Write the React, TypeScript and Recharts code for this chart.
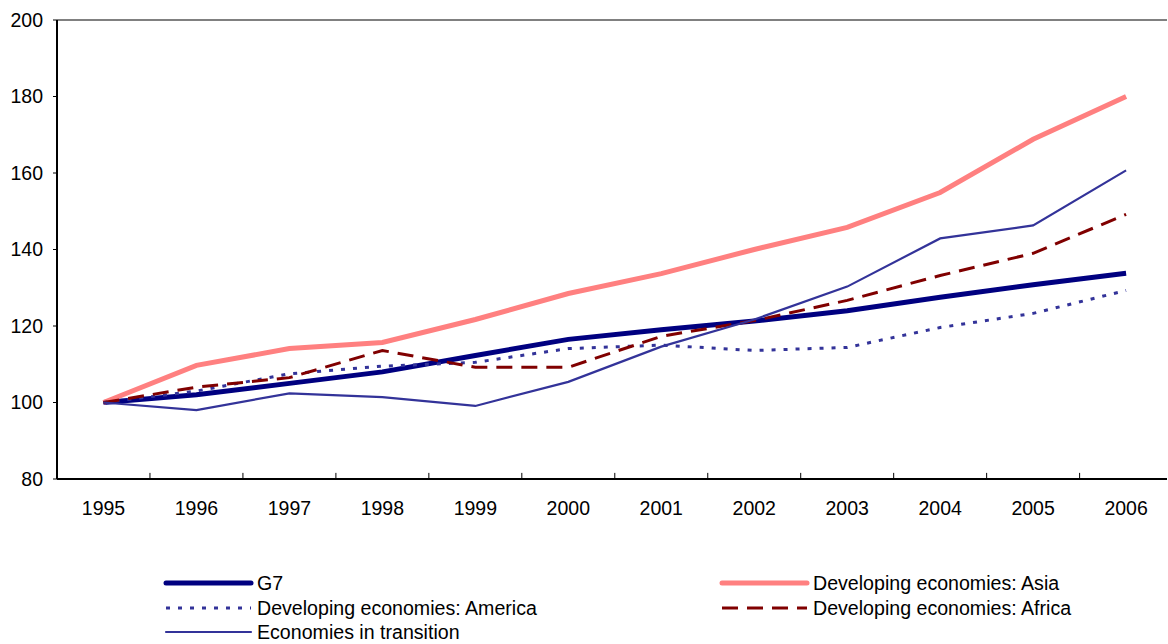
import { LineChart, Line, XAxis, YAxis, ReferenceLine } from 'recharts';

const years = ['1995', '1996', '1997', '1998', '1999', '2000', '2001', '2002', '2003', '2004', '2005', '2006'];
const g7 = [100, 102, 105, 108, 112.3, 116.5, 119, 121.3, 124, 127.5, 130.8, 133.8];
const asia = [100, 109.7, 114.1, 115.7, 121.7, 128.5, 133.7, 140, 145.8, 154.9, 168.8, 180];
const america = [100, 103, 107.5, 109.5, 110.5, 114.1, 115, 113.6, 114.4, 119.6, 123.3, 129.3];
const africa = [100, 104, 106.5, 113.6, 109.2, 109.2, 117.3, 121.4, 126.7, 133.2, 139, 149.2];
const transition = [100, 98, 102.4, 101.4, 99.1, 105.4, 114.6, 121.7, 130.3, 142.9, 146.3, 160.7];
const yTicks = [80, 100, 120, 140, 160, 180, 200];

const data = years.map((y, i) => ({
  x: i,
  g7: g7[i],
  asia: asia[i],
  america: america[i],
  africa: africa[i],
  transition: transition[i],
}));

const series = [
  { key: 'g7', name: 'G7', color: '#000080', width: 5, dash: undefined },
  { key: 'asia', name: 'Developing economies: Asia', color: '#FF8080', width: 5, dash: undefined },
  { key: 'america', name: 'Developing economies: America', color: '#333399', width: 3, dash: '4 8' },
  { key: 'africa', name: 'Developing economies: Africa', color: '#800000', width: 3, dash: '16 9' },
  { key: 'transition', name: 'Economies in transition', color: '#333399', width: 2.2, dash: undefined },
];

const font = 'Arial, "Liberation Sans", sans-serif';
const tickStyle = { fontSize: 19.5, fill: '#000', fontFamily: font };

function LegendItem({ s, x, y }: { s: (typeof series)[number]; x: number; y: number }) {
  return (
    <div style={{ position: 'absolute', left: x, top: y - 12, height: 24, display: 'flex', alignItems: 'center' }}>
      <svg width={91} height={10}>
        <line x1={3} y1={5} x2={88} y2={5} stroke={s.color} strokeWidth={s.width}
          strokeDasharray={s.dash} strokeLinecap={s.dash ? 'butt' : 'round'} />
      </svg>
      <span style={{ marginLeft: 3, fontFamily: font, fontSize: 19.6, color: '#000', whiteSpace: 'nowrap' }}>{s.name}</span>
    </div>
  );
}

export default function App() {
  // category boundaries sit halfway between the years
  const edges = years.slice(1).map((_, i) => i + 0.5);
  return (
    <div style={{ position: 'absolute', left: 0, top: 0, width: 1168, height: 644, background: '#fff' }}>
      <LineChart width={1168} height={480 + 50} data={data} margin={{ top: 20, right: 1, bottom: 0, left: 0 }}>
        <XAxis
          dataKey="x"
          type="number"
          domain={[-0.5, 11.44]}
          allowDataOverflow
          ticks={years.map((_, i) => i)}
          tickFormatter={(v: number) => years[v]}
          tickLine={false}
          tickSize={0}
          tickMargin={22}
          height={51}
          axisLine={{ stroke: '#000', strokeWidth: 2 }}
          tick={tickStyle}
          interval={0}
        />
        <YAxis
          domain={[80, 200]}
          ticks={yTicks}
          width={57}
          tickSize={4}
          tickMargin={10}
          tickLine={{ stroke: '#000' }}
          axisLine={{ stroke: '#000', strokeWidth: 2 }}
          tick={tickStyle}
          interval={0}
        />
        <ReferenceLine y={200} stroke="#808080" strokeWidth={2} />
        {edges.map((e) => (
          <ReferenceLine key={e} segment={[{ x: e, y: 80 }, { x: e, y: 81.6 }]} stroke="#000" strokeWidth={1} />
        ))}
        {series.map((s) => (
          <Line
            key={s.key}
            type="linear"
            dataKey={s.key}
            name={s.name}
            stroke={s.color}
            strokeWidth={s.width}
            strokeDasharray={s.dash}
            dot={false}
            activeDot={false}
            isAnimationActive={false}
          />
        ))}
      </LineChart>
      <LegendItem s={series[0]} x={163} y={583} />
      <LegendItem s={series[2]} x={163} y={608} />
      <LegendItem s={series[4]} x={163} y={632} />
      <LegendItem s={series[1]} x={719} y={583} />
      <LegendItem s={series[3]} x={719} y={608} />
    </div>
  );
}
